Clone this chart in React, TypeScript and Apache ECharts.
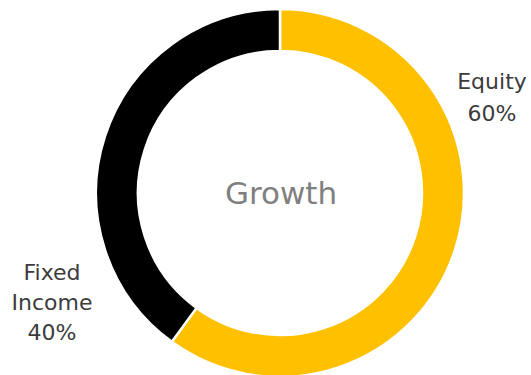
import React, { useEffect, useRef } from "react";
import * as echarts from "echarts";

const categories = ["Equity", "Fixed Income"];
const values = [60, 40];
const labelLines = [["Equity", "60%"], ["Fixed", "Income", "40%"]];
const centerTitle = "Growth";

export default function App() {
  const ref = useRef<HTMLDivElement>(null);
  useEffect(() => {
    if (!ref.current) return;
    const chart = echarts.init(ref.current, null, { renderer: "svg" });
    const font = "'DejaVu Sans', sans-serif";
    chart.setOption({
      animation: false,
      backgroundColor: "#ffffff",
      color: ["#FFC000", "#000000"],
      series: [
        {
          type: "pie",
          center: [280, 193],
          radius: [142, 184],
          startAngle: 90,
          clockwise: true,
          silent: true,
          label: { show: false },
          labelLine: { show: false },
          itemStyle: { borderColor: "#ffffff", borderWidth: 2.5 },
          data: categories.map((c, i) => ({ name: c, value: values[i] })),
        },
      ],
      graphic: [
        {
          type: "text",
          x: 281,
          y: 193,
          style: {
            text: centerTitle,
            fill: "#808080",
            font: `31px ${font}`,
            textAlign: "center",
            textVerticalAlign: "middle",
          },
        },
        {
          type: "text",
          x: 492,
          y: 97,
          style: {
            text: labelLines[0].join("\n"),
            fill: "#3c3c3c",
            font: `22px ${font}`,
            lineHeight: 32,
            textAlign: "center",
            textVerticalAlign: "middle",
          },
        },
        {
          type: "text",
          x: 52,
          y: 302,
          style: {
            text: labelLines[1].join("\n"),
            fill: "#3c3c3c",
            font: `22px ${font}`,
            lineHeight: 30,
            textAlign: "center",
            textVerticalAlign: "middle",
          },
        },
      ],
    });
    return () => chart.dispose();
  }, []);
  return (
    <div
      ref={ref}
      style={{ position: "fixed", left: 0, top: 0, width: 531, height: 375 }}
    />
  );
}
